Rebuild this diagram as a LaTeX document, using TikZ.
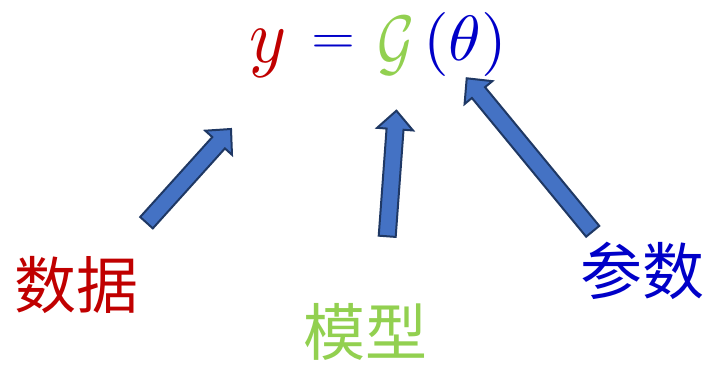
\documentclass[tikz,border=0pt]{standalone}
\usepackage{fontspec}
\usepackage{graphicx}
\newfontfamily\cjk{Noto Sans CJK SC}
\usetikzlibrary{calc}
\definecolor{cred}{HTML}{C00000}
\definecolor{cgreen}{HTML}{92D050}
\definecolor{cblue}{HTML}{0000C8}
\definecolor{afill}{HTML}{4472C4}
\definecolor{aline}{HTML}{1F3864}
\tikzset{
  piece/.style={inner sep=0pt, anchor=center},
  lbl/.style={inner sep=0pt, anchor=center, font=\cjk\fontsize{62}{64}\selectfont},
  blockarr/.style={fill=afill, draw=aline, line width=2pt, line join=miter}
}
\newcommand{\blockarrow}[2]{%
  \coordinate (hb) at ($(#2)!18.5pt!(#1)$);
  \draw[blockarr] ($(#1)!8.5pt!90:(#2)$) -- ($(hb)!8.5pt!90:(#2)$) -- ($(hb)!18pt!90:(#2)$) -- (#2)
     -- ($(hb)!18pt!-90:(#2)$) -- ($(hb)!8.5pt!-90:(#2)$) -- ($(#1)!8.5pt!-90:(#2)$) -- cycle;}
\begin{document}
\begin{tikzpicture}[x=1pt, y=-1pt]
  \useasboundingbox (0,0) rectangle (711,364);
  % formula
  \node[piece, text=cred] (fy) at (268,53) {\resizebox*{37pt}{48pt}{$y$}};
  \node[piece, text=cblue] (feq) at (333,44) {\resizebox*{44pt}{18pt}{$=$}};
  \node[piece, text=cgreen] (fg) at (396,46) {\resizebox*{37pt}{58pt}{$\mathcal{G}$}};
  \node[piece, text=cblue] (fth) at (465,44) {\resizebox*{84pt}{64pt}{$(\theta)$}};
  % labels
  \node[lbl, text=cred] (data) at (76.5,285) {数据};
  \node[lbl, text=cgreen] (model) at (365.5,332) {模型};
  \node[lbl, text=cblue] (param) at (642,271) {参数};
  % arrows
  \coordinate (t1) at (146.5,222.7);
  \coordinate (h1) at (231,129);
  \coordinate (t2) at (387.2,236.3);
  \coordinate (h2) at (396.4,110.7);
  \coordinate (t3) at (592.7,231.3);
  \coordinate (h3) at (466.7,78.3);
  \blockarrow{t1}{h1}
  \blockarrow{t2}{h2}
  \blockarrow{t3}{h3}
\end{tikzpicture}
\end{document}
